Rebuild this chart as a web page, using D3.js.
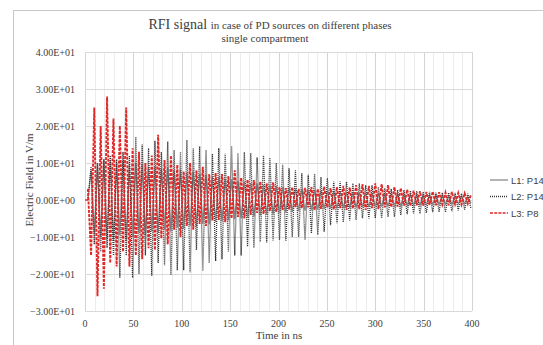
<!DOCTYPE html>
<html lang="en">
<head>
    <meta charset="UTF-8">
    <title>RFI signal</title>
    <script src="https://d3js.org/d3.v7.min.js"></script>
    <style>
        body { margin: 0; background: #fff; }
        svg { display: block; }
        .tick-label { font-family: "Liberation Serif", "Times New Roman", serif; font-size: 10px; fill: #404040; }
        .axis-title { font-family: "Liberation Serif", "Times New Roman", serif; font-size: 11px; fill: #404040; }
        .legend-label { font-family: "Liberation Sans", Arial, sans-serif; font-size: 9.5px; fill: #404040; }
    </style>
</head>
<body>
<div id="chart"></div>
<script>
    // sampling grid: one value every half period, starting at 3 ns
    const startNs = 3;
    const stepNs = 3.3;

    const yTicks = [-30, -20, -10, 0, 10, 20, 30, 40];
    const xTicks = [0, 50, 100, 150, 200, 250, 300, 350, 400];

    const seriesNames = ["L1: P14", "L2: P14", "L3: P8"];

    // L1: P14 (grey solid)
    const l1 = [0, 8, -9, 10, -10, 11, -10.5, 10.8, -11, 10, -9.5, 10.5, -10.8, 9.5, -10, 10,
        -9, 9.5, -9.5, 9, -8.5, 9.2, -9, 8.5, -8, 8.8, -8.5, 8, -7.5, 8.2, -7.8, 7.5,
        -7, 7.6, -7.2, 7, -6.5, 6.8, -6.6, 6.2, -6, 6.3, -5.8, 5.8, -5.5, 5.6, -5.2, 5.2,
        -5, 5, -4.8, 4.6, -4.5, 4.5, -4.2, 4.2, -4, 4, -3.8, 3.8, -3.6, 3.5, -3.4, 3.4,
        -3.2, 3.1, -3, 3, -2.9, 2.8, -2.8, 2.7, -2.6, 2.6, -2.5, 2.5, -2.4, 2.4, -2.3, 2.3,
        -2.2, 2.2, -2.1, 2.1, -2, 2, -2, 1.9, -1.9, 1.9, -1.8, 1.8, -1.8, 1.7, -1.7, 1.7,
        -1.6, 1.6, -1.6, 1.5, -1.5, 1.5, -1.4, 1.4, -1.4, 1.3, -1.3, 1.3, -1.2, 1.2, -1.2, 1.2,
        -1.1, 1.1, -1.1, 1, -1, 1, -1, 0.9, -0.9];

    // L2: P14 (black dotted)
    const l2 = [0, 9, -12, 10, -14, 11, -13, 12, -15, 11, -21, 13, -15, 12, -21, 17,
        -20, 15, -15, 14, -20.5, 16, -17, 13, -17.6, 15.8, -20.3, 13.5, -19, 13, -19, 16.2,
        -19.5, 14, -13.5, 14.5, -19.2, 13.5, -17, 12.5, -16.5, 14, -16, 12.5, -14, 14.6, -15, 12.7,
        -15, 13, -12.6, 12.7, -13, 11.5, -11.3, 12, -11.5, 11.4, -11, 10, -10.8, 9.5, -11, 8.6,
        -10, 8, -10, 7.2, -10.8, 6.8, -9, 7, -9.4, 6.2, -8.6, 5.9, -6.8, 5, -6.3, 5,
        -6, 4.9, -5.5, 4.5, -5.4, 4.5, -4.9, 4, -5, 4, -4.9, 3.5, -4.9, 3.2, -4.6, 3,
        -4.5, 2.7, -4, 2.7, -3.8, 2.5, -3.6, 2.4, -3.7, 2.2, -3.5, 2.2, -3.3, 2, -3.2, 2,
        -3.3, 2, -3, 1.9, -2.8, 1.8, -2.6, 1.7, -2.4];

    // L3: P8 (red dashed)
    const l3 = [3, -15, 25, -26, 20, -24, 28, -17, 22, -18, 20, -14, 25, -18, 14, -15,
        13, -16, 10, -13, 12, -13.5, 17.6, -10.4, 10.8, -12, 12, -8, 9.5, -10, 7.7, -7,
        10, -8, 8, -6.5, 9, -7, 7, -5.5, 7.3, -5.4, 7, -6, 6.5, -5, 8, -4.6,
        6, -5, 5.5, -4, 5.4, -3.5, 5, -3.8, 4.5, -3, 4.8, -3.2, 3.5, -2.7, 3.2, -2.5,
        3.5, -1.9, 3, -2.2, 3.3, -2, 3.5, -2.7, 3, -2.4, 3.6, -2, 3.2, -2.5, 3.5, -2.2,
        3.8, -2.7, 3.4, -2.3, 4, -2.5, 4.3, -2.7, 3.8, -2.2, 4.5, -2.5, 4.3, -2, 4, -1.9,
        3.5, -1.8, 3.2, -1.5, 2.8, -1.6, 2.5, -1.4, 2.4, -1.5, 2.2, -1.3, 2.3, -1.4, 2.1, -1.2,
        2, -1.4, 2.2, -1.1, 1.9, -1.2, 1.8, -1, 1.5];

    const seriesData = [l1, l2, l3];
    const seriesStyle = [
        { color: "#8c8c8c", dash: null, width: 1.3 },
        { color: "#333333", dash: "1,1", width: 1.3 },
        { color: "#e02828", dash: "3,1.2", width: 1.9 }
    ];

    const width = 543, height = 345;
    const plotLeft = 85, plotRight = 472, plotTop = 52, plotBottom = 311;

    const svg = d3.select("#chart").append("svg")
        .attr("width", width)
        .attr("height", height);

    // chart area border
    svg.append("rect")
        .attr("x", 13.5).attr("y", 10.5)
        .attr("width", 600).attr("height", 400)
        .attr("fill", "none")
        .attr("stroke", "#c8c8c8");

    const x = d3.scaleLinear().domain([0, 400]).range([plotLeft, plotRight]);
    const y = d3.scaleLinear().domain([-30, 40]).range([plotBottom, plotTop]);

    // minor vertical grid every 10 ns
    svg.append("g").selectAll("line")
        .data(d3.range(10, 400, 10).filter(v => v % 50 !== 0))
        .enter().append("line")
        .attr("x1", d => Math.round(x(d)) + 0.5).attr("x2", d => Math.round(x(d)) + 0.5)
        .attr("y1", plotTop).attr("y2", plotBottom)
        .attr("stroke", "#ececec");

    // major vertical grid
    svg.append("g").selectAll("line")
        .data(xTicks)
        .enter().append("line")
        .attr("x1", d => Math.round(x(d)) + 0.5).attr("x2", d => Math.round(x(d)) + 0.5)
        .attr("y1", plotTop).attr("y2", plotBottom)
        .attr("stroke", "#d4d4d4");

    // horizontal grid
    svg.append("g").selectAll("line")
        .data(yTicks)
        .enter().append("line")
        .attr("x1", plotLeft).attr("x2", plotRight)
        .attr("y1", d => Math.round(y(d)) + 0.5).attr("y2", d => Math.round(y(d)) + 0.5)
        .attr("stroke", "#d9d9d9");

    // tick labels
    svg.append("g").selectAll("text")
        .data(yTicks)
        .enter().append("text")
        .attr("class", "tick-label")
        .attr("x", plotLeft - 10)
        .attr("y", d => y(d) + 3.5)
        .attr("text-anchor", "end")
        .text(d => d3.format(".2e")(d).toUpperCase().replace(/E([+-])(\d)$/, "E$10$2"));

    svg.append("g").selectAll("text")
        .data(xTicks)
        .enter().append("text")
        .attr("class", "tick-label")
        .attr("x", d => x(d))
        .attr("y", plotBottom + 16)
        .attr("text-anchor", "middle")
        .text(d => d);

    // series
    const line = d3.line()
        .x((d, i) => x(startNs + stepNs * i))
        .y(d => y(d));

    svg.append("g").selectAll("path")
        .data(seriesData)
        .enter().append("path")
        .attr("d", d => line(d))
        .attr("fill", "none")
        .attr("stroke", (d, i) => seriesStyle[i].color)
        .attr("stroke-width", (d, i) => seriesStyle[i].width)
        .attr("stroke-dasharray", (d, i) => seriesStyle[i].dash);

    // flat lead-in at zero before the signal starts
    svg.append("line")
        .attr("x1", x(0)).attr("x2", x(startNs))
        .attr("y1", y(0)).attr("y2", y(0))
        .attr("stroke", "#e02828").attr("stroke-width", 1.4);

    // titles
    const title = svg.append("text")
        .attr("x", 270).attr("y", 29)
        .attr("text-anchor", "middle")
        .attr("font-family", "Liberation Serif, Times New Roman, serif")
        .attr("fill", "#404040");
    title.append("tspan").attr("font-size", "14px").text("RFI signal ");
    title.append("tspan").attr("font-size", "11px").text("in case of PD sources on different phases");

    svg.append("text")
        .attr("x", 265).attr("y", 42)
        .attr("text-anchor", "middle")
        .attr("font-family", "Liberation Serif, Times New Roman, serif")
        .attr("font-size", "11px")
        .attr("fill", "#404040")
        .text("single compartment");

    svg.append("text")
        .attr("class", "axis-title")
        .attr("x", 279).attr("y", 339)
        .attr("text-anchor", "middle")
        .text("Time in ns");

    svg.append("text")
        .attr("class", "axis-title")
        .attr("transform", "translate(33,180) rotate(-90)")
        .attr("text-anchor", "middle")
        .text("Electric Field in V/m");

    // legend
    const legend = svg.append("g").selectAll("g")
        .data(seriesNames)
        .enter().append("g")
        .attr("transform", (d, i) => `translate(490, ${180 + i * 16.5})`);

    legend.append("line")
        .attr("x1", 0).attr("x2", 18)
        .attr("stroke", (d, i) => seriesStyle[i].color)
        .attr("stroke-width", (d, i) => Math.min(seriesStyle[i].width, 1.4))
        .attr("stroke-dasharray", (d, i) => seriesStyle[i].dash);

    legend.append("text")
        .attr("class", "legend-label")
        .attr("x", 21).attr("y", 3.5)
        .text(d => d);
</script>
</body>
</html>
